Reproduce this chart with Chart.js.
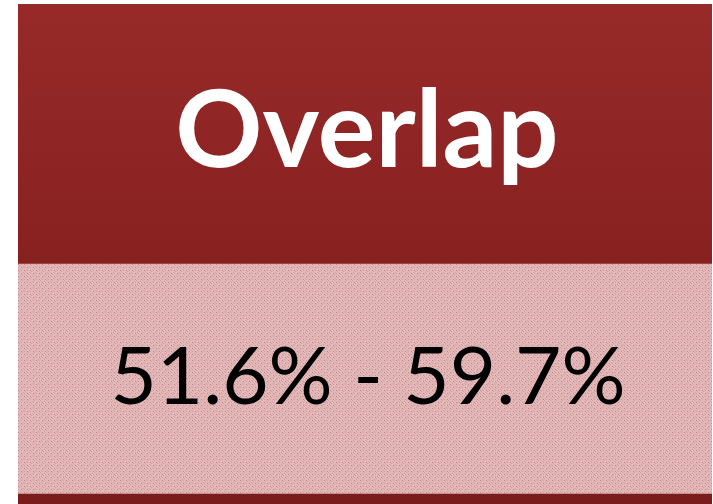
<!DOCTYPE html>
<html>
<head>
<meta charset="utf-8">
<script src="https://cdn.jsdelivr.net/npm/chart.js@4/dist/chart.umd.min.js"></script>
<style>
  html, body { margin: 0; padding: 0; background: #fff; }
  canvas { display: block; }
</style>
</head>
<body>
<canvas id="overlapChart" width="713" height="504"></canvas>
<script>
// table content
const labels = ['Overlap']
const overlapLow = [51.6]
const overlapHigh = [59.7]

// dotted pink fill like the original cell texture
function makePattern() {
  const c = document.createElement('canvas')
  c.width = 6
  c.height = 6
  const g = c.getContext('2d')
  g.fillStyle = '#e2b8b8'
  g.fillRect(0, 0, 6, 6)
  g.fillStyle = '#c4868a'
  g.fillRect(0, 0, 1, 1)
  g.fillRect(3, 3, 1, 1)
  g.fillStyle = '#d3a0a2'
  g.fillRect(3, 0, 1, 1)
  g.fillRect(0, 3, 1, 1)
  g.fillRect(1, 1, 1, 1)
  g.fillRect(4, 4, 1, 1)
  g.fillRect(2, 5, 1, 1)
  g.fillRect(5, 2, 1, 1)
  return g.createPattern(c, 'repeat')
}

function headerGradient(ctx) {
  const area = ctx.chart.chartArea
  if (!area) return '#902625'
  const grad = ctx.chart.ctx.createLinearGradient(0, area.top, 0, area.top + 260)
  grad.addColorStop(0, '#972a29')
  grad.addColorStop(1, '#872120')
  return grad
}

const tableText = {
  id: 'tableText',
  afterDatasetsDraw(chart) {
    const ctx = chart.ctx
    const header = chart.getDatasetMeta(2).data[0]
    const body = chart.getDatasetMeta(1).data[0]
    ctx.save()
    ctx.textAlign = 'center'
    ctx.textBaseline = 'alphabetic'

    ctx.fillStyle = '#ffffff'
    ctx.font = 'bold 108px Lato'
    ctx.fillText(labels[0], header.x + 2, header.y + 163)

    ctx.fillStyle = '#000000'
    ctx.font = '80px Lato'
    const txt = overlapLow[0].toFixed(1) + '% - ' + overlapHigh[0].toFixed(1) + '%'
    ctx.fillText(txt, body.x + 3, body.y + 140)
    ctx.restore()
  }
}

new Chart(document.getElementById('overlapChart'), {
  type: 'bar',
  data: {
    labels: labels,
    datasets: [
      { label: 'footer', data: [10], backgroundColor: '#7a1c1c' },
      { label: 'range', data: [230], backgroundColor: makePattern() },
      { label: 'title', data: [260], backgroundColor: headerGradient }
    ]
  },
  options: {
    responsive: false,
    animation: false,
    layout: { padding: { left: 18, top: 4, right: 1, bottom: 0 } },
    datasets: {
      bar: { barPercentage: 1, categoryPercentage: 1, borderWidth: 0 }
    },
    plugins: {
      legend: { display: false },
      tooltip: { enabled: false },
      title: { display: false }
    },
    scales: {
      x: { stacked: true, display: false },
      y: { stacked: true, display: false, min: 0, max: 500 }
    }
  },
  plugins: [tableText]
})
</script>
</body>
</html>
